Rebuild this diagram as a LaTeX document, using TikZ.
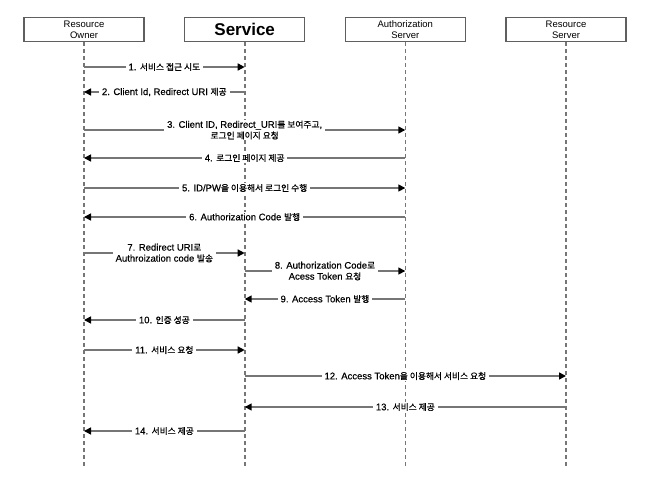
\documentclass[tikz,border=0pt]{standalone}
\usepackage{fontspec}
\setmainfont{Liberation Sans}[FakeBold=0.4]
\newfontfamily\hdrfont{Liberation Sans}
\newfontfamily\krfont{Noto Sans CJK KR}[Scale=0.92,FakeBold=0.6]
\usetikzlibrary{arrows.meta}
\newcommand{\ko}[1]{{\krfont #1}}
\definecolor{ln}{HTML}{767676}
\definecolor{bx}{HTML}{5F5F5F}
\tikzset{
  hbox/.style={draw=bx, line width=1.3pt, minimum width=120pt, minimum height=24pt, align=center, inner sep=0pt, fill=white, font=\hdrfont\fontsize{9.5}{11}\selectfont},
  life/.style={draw=ln, line width=1.6pt, dash pattern=on 4pt off 3pt},
  msg/.style={draw=ln, line width=1.5pt, -{Triangle[length=7pt,width=7pt,color=black]}},
  lbl/.style={fill=white, inner xsep=3pt, inner ysep=1pt, align=center, text=black}
}
\begin{document}
\begin{tikzpicture}[x=1pt,y=-1pt,font=\fontsize{9.5}{11}\selectfont]
\useasboundingbox[fill=white] (0,0) rectangle (646,488);
\node[hbox] (ro) at (84,29.5) {Resource\\Owner};
\node[hbox,font=\hdrfont\fontsize{17}{19}\selectfont\bfseries] (sv) at (244.7,29.5) {Service};
\node[hbox] (as) at (405.3,29.5) {Authorization\\Server};
\node[hbox] (rs) at (566,29.5) {Resource\\Server};
\coordinate (roe) at (84,467);
\coordinate (sve) at (244.7,467);
\coordinate (ase) at (405.3,467);
\coordinate (rse) at (566,467);
\draw[life] (ro.south) -- (roe);
\draw[life] (sv.south) -- (sve);
\draw[life] (as.south) -- (ase);
\draw[life] (rs.south) -- (rse);
% messages
\draw[msg] (ro |- 0,67) -- node[lbl]{1. \ko{서비스 접근 시도}} (sv |- 0,67);
\draw[msg] (sv |- 0,92) -- node[lbl]{2. Client Id, Redirect URI \ko{제공}} (ro |- 0,92);
\draw[msg] (ro |- 0,130) -- node[lbl]{3. Client ID, Redirect\_URI\ko{를 보여주고},\\\ko{로그인 페이지 요청}} (as |- 0,130);
\draw[msg] (as |- 0,158) -- node[lbl]{4. \ko{로그인 페이지 제공}} (ro |- 0,158);
\draw[msg] (ro |- 0,188) -- node[lbl]{5. ID/PW\ko{을 이용해서 로그인 수행}} (as |- 0,188);
\draw[msg] (as |- 0,217) -- node[lbl]{6. Authorization Code \ko{발행}} (ro |- 0,217);
\draw[msg] (ro |- 0,253) -- node[lbl]{7. Redirect URI\ko{로}\\Authroization code \ko{발송}} (sv |- 0,253);
\draw[msg] (sv |- 0,271) -- node[lbl]{8. Authorization Code\ko{로}\\Acess Token \ko{요청}} (as |- 0,271);
\draw[msg] (as |- 0,299) -- node[lbl]{9. Access Token \ko{발행}} (sv |- 0,299);
\draw[msg] (sv |- 0,320) -- node[lbl]{10. \ko{인증 성공}} (ro |- 0,320);
\draw[msg] (ro |- 0,350) -- node[lbl]{11. \ko{서비스 요청}} (sv |- 0,350);
\draw[msg] (sv |- 0,376) -- node[lbl]{12. Access Token\ko{을 이용해서 서비스 요청}} (rs |- 0,376);
\draw[msg] (rs |- 0,407) -- node[lbl]{13. \ko{서비스 제공}} (sv |- 0,407);
\draw[msg] (sv |- 0,431) -- node[lbl]{14. \ko{서비스 제공}} (ro |- 0,431);
\end{tikzpicture}
\end{document}
